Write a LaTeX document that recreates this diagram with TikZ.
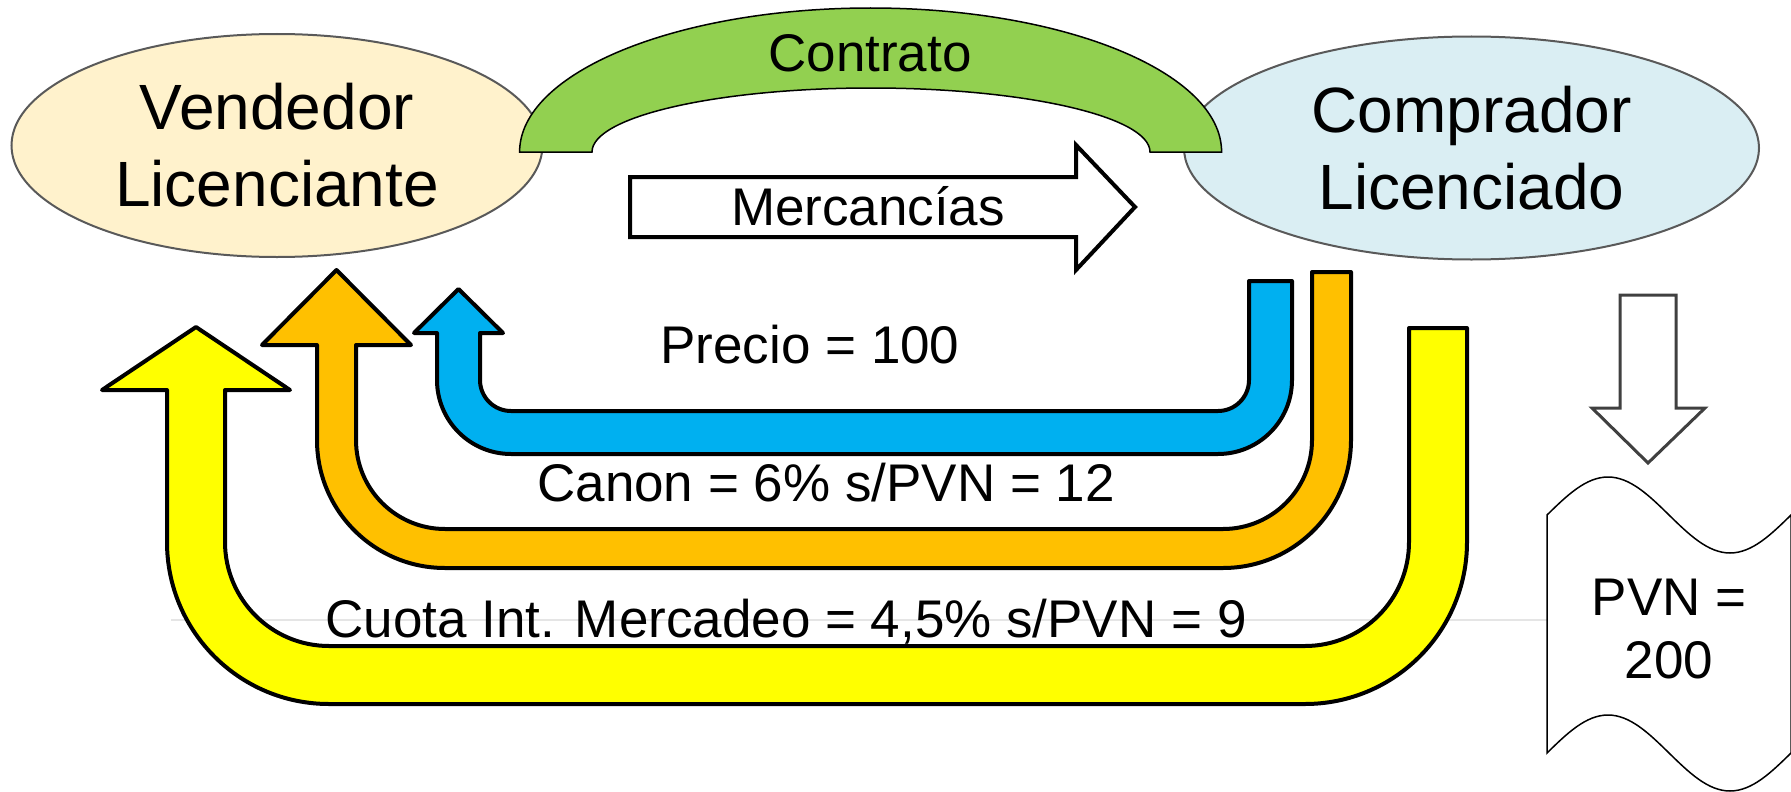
\documentclass[tikz,border=0pt]{standalone}
\usepackage{fontspec}
\setmainfont{Liberation Sans}
\usetikzlibrary{shapes.geometric}

\definecolor{vendfill}{HTML}{FFF2CC}
\definecolor{compfill}{HTML}{DAEEF3}
\definecolor{contrgreen}{HTML}{92D050}
\definecolor{preciob}{HTML}{00B0F0}
\definecolor{canono}{HTML}{FFC000}
\definecolor{cuotay}{HTML}{FFFF00}

\begin{document}
\begin{tikzpicture}[x=1pt,y=-1pt,
  party/.style={ellipse,draw=black!65,line width=2pt,inner sep=0pt,align=center,font=\fontsize{64}{77}\selectfont},
  lbl/.style={anchor=base,font=\fontsize{53}{63}\selectfont},
  band/.style={draw=black,line width=4pt,line join=round}]
\useasboundingbox (0,0) rectangle (1791,792);
\clip (0,0) rectangle (1791,792);

% faint guide line
\draw[black!10,line width=2pt] (171,620) -- (1547,620);

% the two parties
\node[party,fill=vendfill,minimum width=531pt,minimum height=223pt] (vend) at (277,145.5) {Vendedor\\Licenciante};
\node[party,fill=compfill,minimum width=575pt,minimum height=223pt] (comp) at (1471.5,148) {Comprador\\Licenciado};

% contract band
\draw[fill=contrgreen,line width=1.5pt] (519.6,152) arc[start angle=180,end angle=360,x radius=351,y radius=144]
  -- (1150,152) arc[start angle=0,end angle=-180,x radius=279,y radius=64] -- cycle;
\node[lbl] (contrato) at (870,72) {Contrato};

% goods
\draw[fill=white,line width=4pt] (630,177) -- (1076,177) -- (1076,145) -- (1135,207) -- (1076,270) -- (1076,237) -- (630,237) -- cycle;
\node[lbl] (merc) at (868,225) {Mercancías};

% payments back to the seller
\draw[band,fill=cuotay] (1467,328) -- (1467,542) arc[start angle=0,end angle=90,radius=162] -- (329,704)
  arc[start angle=90,end angle=180,radius=162] -- (167,390) -- (102,390) -- (196,327) -- (290,390) -- (225,390)
  -- (225,542) arc[start angle=180,end angle=90,radius=104] -- (1305,646) arc[start angle=90,end angle=0,radius=104] -- (1409,328) -- cycle;
\draw[band,fill=canono] (1351,272) -- (1351,440) arc[start angle=0,end angle=90,radius=128] -- (445,568)
  arc[start angle=90,end angle=180,radius=128] -- (317,345) -- (262,345) -- (336.5,270) -- (411,345) -- (356,345)
  -- (356,440) arc[start angle=180,end angle=90,radius=89] -- (1223,529) arc[start angle=90,end angle=0,radius=89] -- (1312,272) -- cycle;
\draw[band,fill=preciob] (1292,281) -- (1292,380) arc[start angle=0,end angle=90,radius=74] -- (511,454)
  arc[start angle=90,end angle=180,radius=74] -- (437,333) -- (414,333) -- (458.5,289) -- (503,333) -- (480,333)
  -- (480,380) arc[start angle=180,end angle=90,radius=31] -- (1218,411) arc[start angle=90,end angle=0,radius=31] -- (1249,281) -- cycle;

\node[lbl] (precio) at (810,363) {Precio = 100};
\node[lbl] (canon) at (826,501) {Canon = 6\% s/PVN = 12};
\node[lbl] (cuota) at (786,637) {Cuota Int. Mercadeo = 4,5\% s/PVN = 9};

% net sales price
\draw[draw=black!75,fill=white,line width=3pt] (1620,295) -- (1676,295) -- (1676,408) -- (1705,408) -- (1648,463) -- (1592,408) -- (1620,408) -- cycle;
\draw[fill=white,line width=1.5pt] (1547,515) sin (1608,477) cos (1669,515) sin (1730,553) cos (1791,515)
  -- (1791,753) sin (1730,791) cos (1669,753) sin (1608,715) cos (1547,753) -- cycle;
\node[align=center,font=\fontsize{53}{63}\selectfont] (pvn) at (1669,629.5) {PVN =\\200};
\end{tikzpicture}
\end{document}
